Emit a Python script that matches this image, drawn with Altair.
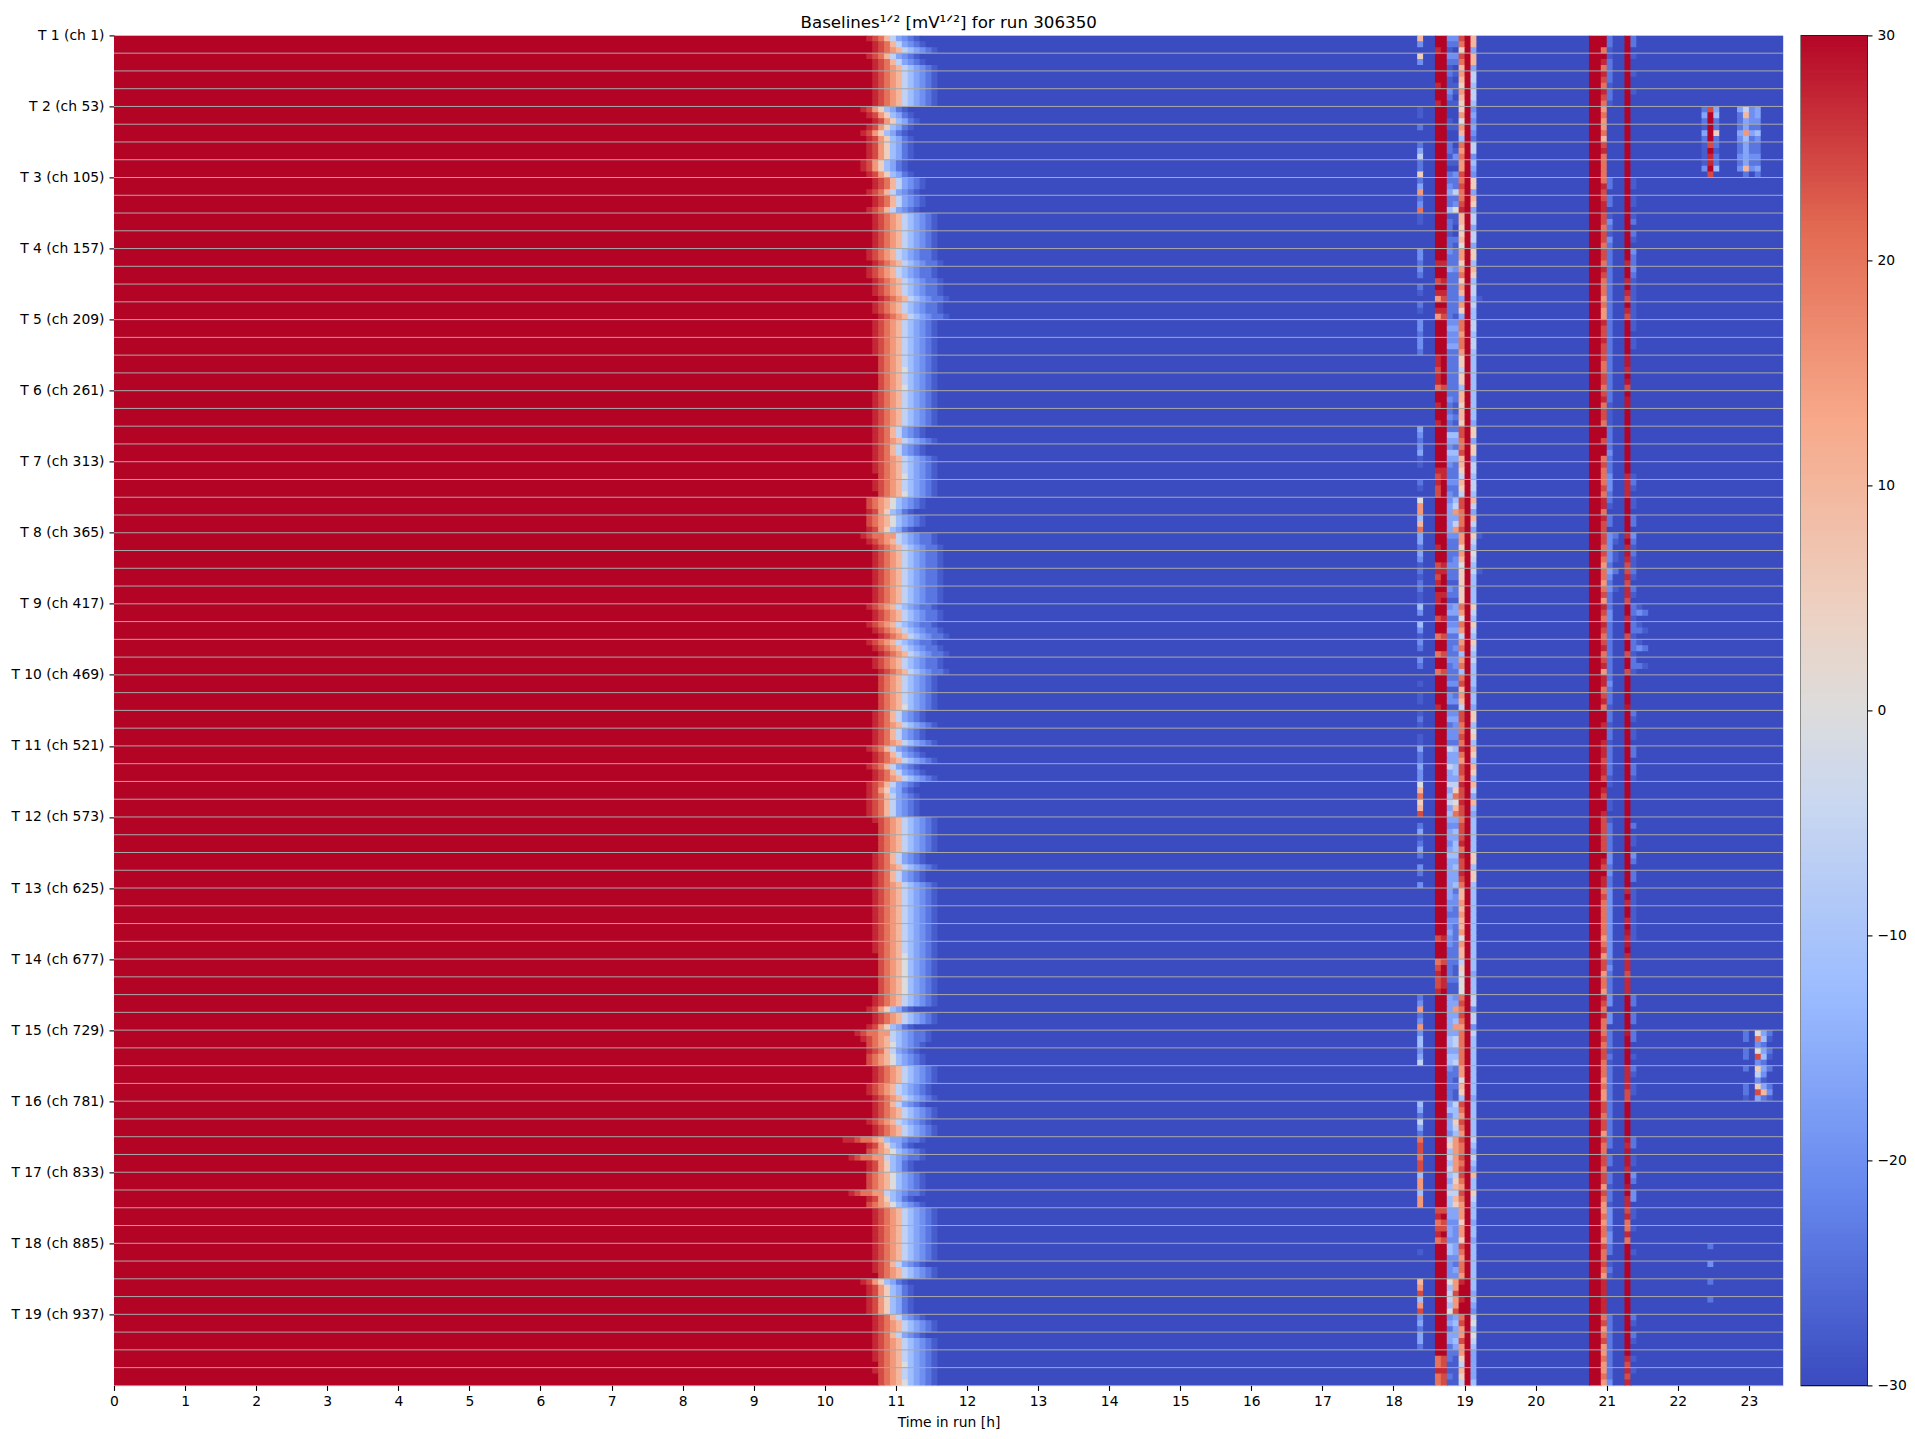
import altair as alt
import numpy as np

alt.data_transformers.disable_max_rows()

TITLE = "Baselines¹ᐟ² [mV¹ᐟ²] for run 306350"
X_TITLE = "Time in run [h]"
N_MODULES = 19
CHANNELS_PER_MODULE = 52
N_ROWS = 228
N_BINS = 282
X_MAX = 23.48

# value of each colour code (colour scale runs -30..30)
LEVELS = {".": -30, "b": -27.5, "c": -24, "d": -20, "e": -16.5, "f": -12, "g": -6, "h": 0,
          "i": 5, "j": 10, "k": 15, "l": 20, "m": 24, "n": 27, "o": 28.5, "#": 30}

# coolwarm
CMAP_VALUES = [-30, -21.4, -12.9, -4.3, 0, 4.3, 12.9, 21.4, 30]
CMAP_COLORS = ["#3b4cc0", "#6788ee", "#9abbff", "#c9d7f0", "#dddcdc",
               "#edd1c2", "#f7a889", "#e26952", "#b40426"]

# falling edge near 11 h: first non-saturated bin (120+digit) and its shape, per row
TRANS_START = """
788 788 888 888 678 767 777 667 887 887
888 888 778 778 889 889 888 888 999 999
888 888 888 888 889 889 777 777 678 888
888 888 788 789 789 889 999 999 888 888
788 788 777 777 899 999 888 888 888 888
888 889 999 999 887 887 567 777 888 778
888 788 377 477 777 477 888 888 888 889
677 777 888 888 889 899
"""
TRANS_PROFILE = """
113 113 333 333 000 000 000 000 111 111
333 333 222 222 222 222 333 333 445 445
333 333 113 113 335 335 550 550 622 222
222 222 222 222 222 222 444 445 113 113
113 113 101 111 344 444 113 113 333 333
333 335 555 555 330 330 625 155 333 333
133 333 705 600 555 605 333 333 333 134
000 000 133 133 335 345
"""
PROFILES = ["nmkifecb", "nmljgedcb", "nmlkjgfedccb", "nmlkjgfedcb", "mlkjgfedcb",
            "mlkjhfedcb", "nmllkkgfedccb", "nnmllkjfeedccb"]

# per-row codes of the time bins that differ from the background, per row
BIN_220 = """
jd. id. ... ... bb. c.. ceg cci cek cdl
bb. ... ddc dc. cb. cb. ddc ddc ... ...
... ... edc deb b.. cb. hkk fjl eec edb
cbc cbb fd. fdb dc. dc. .b. bb. bcb .bb
ecc edd hjl ijm .ce bce c.d c.d ... ...
... ... ... ... cdk cdk dff deg ... ...
fec gec lmm lmm fkk fkk ... ... .b. ...
jkm fkm dec eec ... ...
"""
BIN_223 = """
##n ### ##n ##n ### ### ### ### ### ###
### ### ##n ##m #nk #nk ### ### nnm nnl
##n ##n ### ### #nm nmm ### ### ##n ##m
nmn #nn ##m ##l ##l ##l ### ##n ### ###
### ### ### ### ### ### ### ### ### ###
##m ### lmn mmn ### ### ### ### ### ###
### ### ### ### ### ### mnl mnl ### ###
### ### ### ### #ll nll
"""
BIN_224 = """
### ### ### ### ### ### ### ### ### ###
### ### ##n ##n #nm #nm ### ### ### ##m
### ### ### ### #nn ### ### ### ### ##n
n## #n# ##n ##m ##m ##m ### ### ### ###
### ### ### ### ### ### ### ### ### ###
##n ### m## nn# ### ### ### ### ### ###
### ### ### ### ### ### m#m m#m ### ###
### ### ### ### #mm nmm
"""
BIN_225 = """
dcb dcb cbb dcb ..b b.. ccb b.c cde ccf
bcc bcc dcc ecc ccc ccc ded dec ccc ccc
cdc cdc cfe dfe dcc dcd dee eee dcc ccd
ccb dcb dec dec ccc dcc cdb ddb dec ddc
gee gee gef gef ede ede fee eee eed dcd
ded dcc ccc cbb eee eee eff eff dcc ccc
efd eed gif gfg fef gff eed eed ffd ddd
hfg gfh dec eec ccb bcb
"""
BIN_226 = """
dc. dc. b.b b.b ... b.. .bd b.d ccg cdh
bb. .cb ccc dcc ccc ccb ded dec ccc ccc
ccb bcb cfe cfe ccc dcc fgk egk dcc cdd
ccb ccb eec dec cdc ddc cdb cdb ded ddc
fee ffe gil hjl edf eff fef eef cdd ccd
ccc ccc cbb cbb dek efk egg efg ccb cbb
gff igf kkk kkk gij gji eed ddd eed ced
kkm kkm efe efe cbb bbb
"""
BIN_227 = """
mli mlj kji kji ikh kjf lkl kkm lml lmn
jji ijh kki kli kje kie llk llk iig iif
jji jji mml lmj jig jig mml llm kki kjh
iii iii lkh lkg klf klf lmj kjg mml lml
nlk mml nmm nmm lmm mnl nmm nml jjk jkj
jkh kjj gih hhh lml mlk lll lll kkh jif
mlk mlk mll mlm mlk mlk kki kki mlk llk
n## n## lmk kmk kig jig
"""
BIN_229 = """
jje jje ggf ggf ded edc ggd fed iie jie
gge gge iif jif ggf gff ggf ggf fff fff
fff ffe iie iie ggf ggf jge jge igf hgf
gff fff igf igf igf gff ffe ffe iif hif
jif jif jge jfe fff fff iif iif fff fff
fff fff ffe fff ggd ggd gff fff fff ffe
fff fff gfe gfe jff igf ffe ffe fff fff
ffe fed ghf hgf eee eef
"""
BIN_251 = """
##l #nl nml nml klk klj mnl lll lnm mnn
mml mml mml nml llk lkk nmm nmm mll mml
mnl mml ##m ##l mll lml nnl nmm mml mlk
llk lmk nml nml mnl mnk nnl mnl ##n ##n
nnm nnm #nm ##n mmm mmm #nm #nn lml lll
llk lmk mmk llk nml nll lml mml llk lkk
mml mmk mll mml mmk mlk klk llk mll mlk
nnn nnn lmk lmk klk klk
"""
BIN_252 = """
ccb bcc ccb ccb ... ... ... ... cc. cc.
bdc bdc ccc ccc ccc ccc ccc ccc ccc ccc
ccb bbb ccc cdc ccd ddc cb. cc. ddd ddc
edc dcc cdd ccc ccc ccc cdc ccb ccb ccb
ccc ccb b.. bb. bcc ccc ddc dcc ddd ddd
ddd ddd cdc ccc dd. dd. ccc bcb ccc ccc
ccc ccc cc. cc. ccb ccb ddd cdd cc. bcb
... ... ccc ccc ccc ccd
"""
BIN_255 = """
### ### ### ### ### ### ### ### ### ###
### ### ##n ##n #nm #nm ### ### oon #om
#oo ### ### ### ##n nnn ### ### n#n onm
mnm nnm ##n ##m ##m ##m ### ##o ### ###
### ### ### ### ### ### ### ### n#n ##n
#on o#n nnm nnn ### ### o## ### nnn nmm
### ### ono oon ##o #nn mnl lnl ### ###
### ### ### ### #nm nmn
"""
BIN_256 = """
cc. b.. b.. b.. ... ... ... ... bb. bb.
bc. cb. dcc dcb bbb bbb bb. bb. ... ...
... ... ... ... ..b cb. bb. cc. dcb cbb
cb. cb. ccb ccb ccb ccb ... ... cb. bb.
cc. ccb ... ... .c. bb. dc. cc. bbb bbb
bbb ... ... ... cc. cc. cc. .b. cb. bb.
... ... cc. bb. dc. dd. bb. b.. .b. ...
... ... cb. cb. .b. b..
"""
FULL_BINS = {220: BIN_220, 223: BIN_223, 224: BIN_224, 225: BIN_225, 226: BIN_226,
             227: BIN_227, 229: BIN_229, 251: BIN_251, 252: BIN_252, 255: BIN_255,
             256: BIN_256}
SATURATED_BINS = [228, 249, 250]

# short excursions: (first group of 3 rows, time bin, codes)
EXCURSIONS = [
    (4, 268, "cec bec bbb bd."), (4, 269, "m## ### m#n n#m"), (4, 270, "efc cic cbc cf."),
    (4, 274, "ecc ced ccd cd."), (4, 275, "gje ekf eee ejc"), (4, 276, "ddd cec ccd cd."),
    (4, 277, "eed cfd ccd cec"),
    (56, 275, "cc. cc. c.. ccb"), (56, 277, "hld hmd igd ime"),
    (56, 278, "efc efc edb ejc"), (56, 279, "cb. cb. c.. cdb"),
    (68, 269, "c.. d.. c.. c.."),
    (32, 257, "bd. bc. bd. .c."), (32, 258, ".c. .b. .c. .b."),
    (28, 253, "cb. bb. c.. b.."),
    (14, 230, "..b"), (28, 230, "b.."), (30, 230, "b.."),
]


def flat(text):
    return "".join(text.split())


starts = flat(TRANS_START)
shapes = flat(TRANS_PROFILE)
grid = []
for r in range(N_ROWS):
    s = 120 + int(starts[r])
    row = ["."] * N_BINS
    for i in range(s):
        row[i] = "#"
    for j, ch in enumerate(PROFILES[int(shapes[r])]):
        row[s + j] = ch
    for b in SATURATED_BINS:
        row[b] = "#"
    grid.append(row)
for b, txt in FULL_BINS.items():
    codes = flat(txt)
    assert len(codes) == N_ROWS, (b, len(codes))
    for r, ch in enumerate(codes):
        grid[r][b] = ch
for seg, b, txt in EXCURSIONS:
    for k, ch in enumerate(flat(txt)):
        grid[seg * 3 + k][b] = ch

cells = []
for r, row in enumerate(grid):
    i = 0
    while i < N_BINS:
        j = i
        while j + 1 < N_BINS and row[j + 1] == row[i]:
            j += 1
        cells.append({"t0": i / 12, "t1": (j + 1) / 12 + 0.012, "r0": r, "r1": r + 1.15,
                      "v": LEVELS[row[i]]})
        i = j + 1

color_scale = alt.Scale(domain=CMAP_VALUES, range=CMAP_COLORS, interpolate="rgb")

ROW_TICKS = list(range(0, N_ROWS, 3))
LINE_ROWS = [{"r": r} for r in ROW_TICKS[1:]]
MODULE_LABELS = [f"T {m + 1} (ch {m * CHANNELS_PER_MODULE + 1})" for m in range(N_MODULES)]
label_expr = ("datum.value % 12 === 0 ? " + str(MODULE_LABELS) + "[datum.value / 12] : ''")

x_enc = alt.X("t0:Q", scale=alt.Scale(domain=[0, X_MAX], nice=False, zero=False),
              axis=alt.Axis(values=list(range(24)), format="d", title=X_TITLE, grid=False,
                            domain=False, tickSize=5, tickWidth=1.1, tickColor="black",
                            labelColor="black", labelFontSize=13.9, labelPadding=4,
                            titleFontSize=13.9, titleFontWeight="normal", titleColor="black",
                            titlePadding=7, labelFont="DejaVu Sans", titleFont="DejaVu Sans",
                            labelOverlap=False, labelFlush=False))
y_enc = alt.Y("r0:Q", scale=alt.Scale(domain=[0, N_ROWS], nice=False, zero=False, reverse=True),
              axis=alt.Axis(values=ROW_TICKS, labelExpr=label_expr, title=None, grid=False,
                            domain=False, tickSize=5, tickWidth=1.1, tickColor="black",
                            labelColor="black", labelFontSize=13.9, labelPadding=5,
                            labelFont="DejaVu Sans", labelOverlap=False, labelBound=False,
                            minExtent=105, maxExtent=105, labelFlush=False))

heat = alt.Chart(alt.Data(values=cells)).mark_rect(clip=True, stroke=None).encode(
    x=x_enc, x2="t1:Q", y=y_enc, y2="r1:Q",
    color=alt.Color("v:Q", scale=color_scale, legend=None),
)
lines = alt.Chart(alt.Data(values=LINE_ROWS)).mark_rule(color="#aaaaaa", strokeWidth=1).encode(
    y=alt.Y("r:Q", scale=alt.Scale(domain=[0, N_ROWS], nice=False, zero=False, reverse=True))
)
main = alt.layer(heat, lines).properties(width=1669, height=1350)

COLORBAR_TICKS = [-30, -20, -10, 0, 10, 20, 30]
bar_steps = [{"a": float(v), "b": float(v) + 0.35} for v in np.arange(-30, 30, 0.25)]
colorbar = alt.Chart(alt.Data(values=bar_steps)).mark_rect(clip=True, stroke=None).encode(
    y=alt.Y("a:Q", scale=alt.Scale(domain=[-30, 30], nice=False, zero=False),
            axis=alt.Axis(orient="right", values=COLORBAR_TICKS, title=None, grid=False,
                          domain=False, tickSize=5, tickWidth=1.1, tickColor="black",
                          labelColor="black", labelFontSize=13.9, labelPadding=5,
                          labelFont="DejaVu Sans",
                          labelExpr="(datum.value < 0 ? '−' : '') + abs(datum.value)")),
    y2="b:Q",
    color=alt.Color("a:Q", scale=color_scale, legend=None),
).properties(width=66, height=1350, view=alt.ViewBackground(stroke="black", strokeWidth=1.3))

chart = alt.hconcat(main, colorbar, spacing=16).properties(
    title=alt.TitleParams(TITLE, font="DejaVu Sans", fontSize=16.67, fontWeight="normal",
                          color="black", anchor="start", frame="bounds", dx=792, offset=-3.6),
    padding={"left": 0, "top": 6.4, "right": 0, "bottom": 0},
).configure_view(stroke=None).configure(font="DejaVu Sans")

chart.save("out.html", embed_options={"renderer": "svg", "actions": False})
